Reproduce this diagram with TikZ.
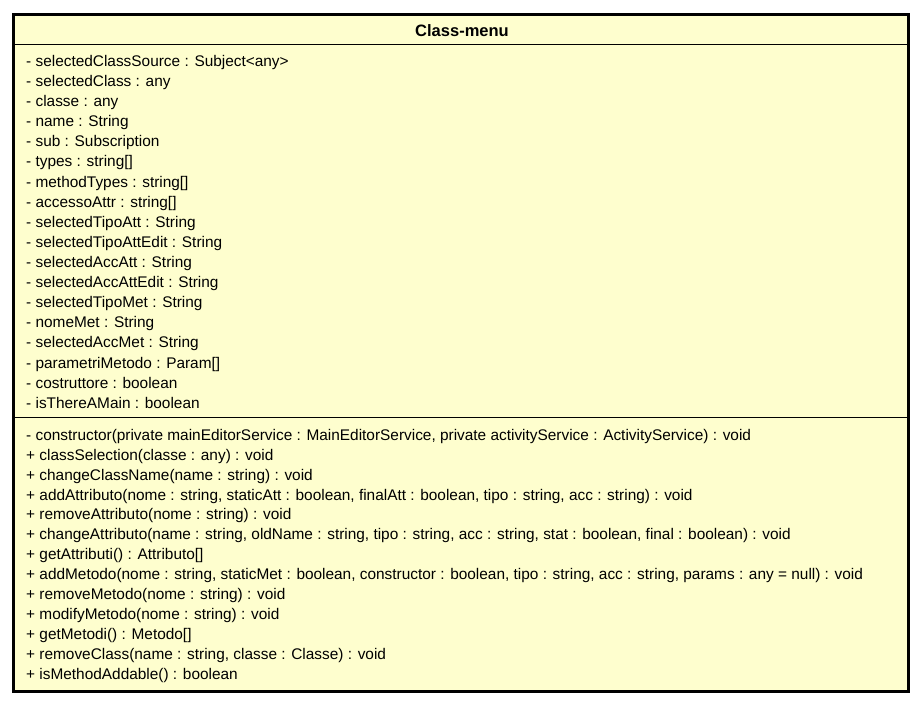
\documentclass[tikz,border=0pt]{standalone}
\usepackage{fontspec}
\setmainfont{Liberation Sans}
\usepackage{tikz}
\usetikzlibrary{
		calc,
		positioning
	}
\definecolor{classfill}{HTML}{FEFECE}
\tikzset{
		member/.style={anchor=base west, inner sep=0pt, font=\fontsize{15.4}{18}\selectfont},
		title/.style={anchor=base, inner sep=0pt, font=\fontsize{16.5}{19}\selectfont\bfseries}
	}

\begin{document}
\begin{tikzpicture}[x=1pt, y=-1pt]
    \useasboundingbox (0,0) rectangle (922,706);

    % the class box and its compartments
    \filldraw[fill=classfill, draw=black, line width=3pt] (13.5,14.5) rectangle (908.5,691);
    \draw[line width=1pt] (13.5,44.5) -- (908.5,44.5);
    \draw[line width=1pt] (13.5,417.5) -- (908.5,417.5);

    % the name of the class
    \node[title] (name) at (462,37) {Class-menu};

    % the attributes
    \node[member] (a1) at (26,66.5) {- selectedClassSource : Subject<any>};
    \node[member] (a2) at (26,86.6) {- selectedClass : any};
    \node[member] (a3) at (26,106.7) {- classe : any};
    \node[member] (a4) at (26,126.8) {- name : String};
    \node[member] (a5) at (26,146.9) {- sub : Subscription};
    \node[member] (a6) at (26,167.0) {- types : string[]};
    \node[member] (a7) at (26,187.1) {- methodTypes : string[]};
    \node[member] (a8) at (26,207.2) {- accessoAttr : string[]};
    \node[member] (a9) at (26,227.3) {- selectedTipoAtt : String};
    \node[member] (a10) at (26,247.4) {- selectedTipoAttEdit : String};
    \node[member] (a11) at (26,267.5) {- selectedAccAtt : String};
    \node[member] (a12) at (26,287.6) {- selectedAccAttEdit : String};
    \node[member] (a13) at (26,307.7) {- selectedTipoMet : String};
    \node[member] (a14) at (26,327.8) {- nomeMet : String};
    \node[member] (a15) at (26,347.9) {- selectedAccMet : String};
    \node[member] (a16) at (26,368.0) {- parametriMetodo : Param[]};
    \node[member] (a17) at (26,388.1) {- costruttore : boolean};
    \node[member] (a18) at (26,408.2) {- isThereAMain : boolean};

    % the methods
    \node[member] (m1) at (26,440.0) {- constructor(private mainEditorService : MainEditorService, private activityService : ActivityService) : void};
    \node[member] (m2) at (26,460.0) {+ classSelection(classe : any) : void};
    \node[member] (m3) at (26,480.0) {+ changeClassName(name : string) : void};
    \node[member] (m4) at (26,500.0) {+ addAttributo(nome : string, staticAtt : boolean, finalAtt : boolean, tipo : string, acc : string) : void};
    \node[member] (m5) at (26,519.9) {+ removeAttributo(nome : string) : void};
    \node[member] (m6) at (26,539.9) {+ changeAttributo(name : string, oldName : string, tipo : string, acc : string, stat : boolean, final : boolean) : void};
    \node[member] (m7) at (26,559.9) {+ getAttributi() : Attributo[]};
    \node[member] (m8) at (26,579.8) {+ addMetodo(nome : string, staticMet : boolean, constructor : boolean, tipo : string, acc : string, params : any = null) : void};
    \node[member] (m9) at (26,599.8) {+ removeMetodo(nome : string) : void};
    \node[member] (m10) at (26,619.8) {+ modifyMetodo(nome : string) : void};
    \node[member] (m11) at (26,639.7) {+ getMetodi() : Metodo[]};
    \node[member] (m12) at (26,659.7) {+ removeClass(name : string, classe : Classe) : void};
    \node[member] (m13) at (26,679.6) {+ isMethodAddable() : boolean};

\end{tikzpicture}
\end{document}
